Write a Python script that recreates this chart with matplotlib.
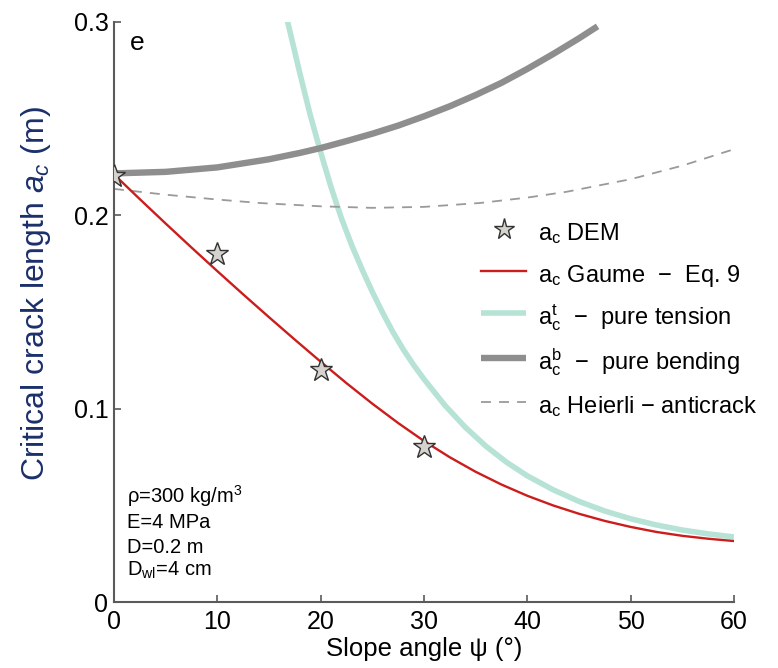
import matplotlib
matplotlib.use("Agg")
from matplotlib import pyplot as plt

plt.rcParams["font.family"] = ["Liberation Sans", "DejaVu Sans"]
plt.rcParams["mathtext.fontset"] = "custom"
plt.rcParams["mathtext.rm"] = "Liberation Sans"
plt.rcParams["mathtext.it"] = "Liberation Sans:italic"

# DEM critical crack lengths
dem_angle = [0, 10, 20, 30]
dem_ac = [0.220, 0.180, 0.120, 0.080]

# Gaume - Eq. 9
gaume_angle = [0, 2.5, 5, 7.5, 10, 12.5, 15, 17.5, 20, 22.5, 25, 27.5, 30, 32.5, 35,
               37.5, 40, 42.5, 45, 47.5, 50, 52.5, 55, 57.5, 60]
gaume_ac = [0.2210, 0.2082, 0.1956, 0.1832, 0.1710, 0.1590, 0.1472, 0.1356, 0.1242,
            0.1131, 0.1025, 0.0925, 0.0832, 0.0748, 0.0673, 0.0607, 0.0549, 0.0499,
            0.0456, 0.0419, 0.0388, 0.0362, 0.0342, 0.0327, 0.0315]

# pure tension
tens_angle = [16.8, 18, 19, 20, 21, 22, 23, 24, 25, 26, 27, 28, 29, 30, 32, 34, 36, 38,
              40, 42.5, 45, 47.5, 50, 52.5, 55, 57.5, 60]
tens_ac = [0.300, 0.273, 0.2515, 0.2325, 0.2145, 0.1985, 0.1845, 0.1720, 0.1603, 0.1495,
           0.1395, 0.1305, 0.1225, 0.1152, 0.1018, 0.0903, 0.0805, 0.0722, 0.0652,
           0.0580, 0.0520, 0.0470, 0.0430, 0.0398, 0.0372, 0.0352, 0.0336]

# pure bending
bend_angle = [0, 5, 10, 15, 18, 20, 22.5, 25, 27.5, 30, 32.5, 35, 37.5, 40, 42.5, 45, 46.8]
bend_ac = [0.2215, 0.2223, 0.2246, 0.2288, 0.2321, 0.2346, 0.2382, 0.2420, 0.2462,
           0.2510, 0.2562, 0.2620, 0.2683, 0.2755, 0.2832, 0.2913, 0.2975]

# Heierli anticrack
heierli_angle = [0, 5, 10, 14.1, 20, 25, 30, 35.4, 40, 43.8, 50, 55, 60]
heierli_ac = [0.2135, 0.2105, 0.2080, 0.2062, 0.2045, 0.2037, 0.2042, 0.2062, 0.2090,
              0.2120, 0.2185, 0.2255, 0.2340]

fig = plt.figure(figsize=(7.78, 6.68), dpi=100)
ax = fig.add_axes([0.1465, 0.0988, 0.7969, 0.869])

ax.plot(tens_angle, tens_ac, color="#b6e3d5", lw=4.0, solid_capstyle="butt",
        label=r"a$_\mathrm{c}^\mathrm{t}$  $-$  pure tension", zorder=2)
ax.plot(bend_angle, bend_ac, color="#8e8e8e", lw=4.6, solid_capstyle="butt",
        label=r"a$_\mathrm{c}^\mathrm{b}$  $-$  pure bending", zorder=2)
ax.plot(heierli_angle, heierli_ac, color="#9a9a9a", lw=1.3, ls=(0, (5.5, 4.5)),
        label=r"a$_\mathrm{c}$ Heierli $-$ anticrack", zorder=2)
ax.plot(gaume_angle, gaume_ac, color="#cc1d1d", lw=1.7,
        label=r"a$_\mathrm{c}$ Gaume  $-$  Eq. 9", zorder=3)
ax.plot(dem_angle, dem_ac, ls="none", marker="*", ms=17, mfc="#d6d3ce", mec="#333333",
        mew=1.0, label=r"a$_\mathrm{c}$ DEM", zorder=4)

handles, labels = ax.get_legend_handles_labels()
order = [4, 3, 0, 1, 2]
ax.legend([handles[i] for i in order], [labels[i] for i in order],
          loc="upper left", bbox_to_anchor=(0.558, 0.699), frameon=False,
          fontsize=17, handlelength=1.9, handleheight=1.5, labelspacing=0.56,
          handletextpad=0.5, borderpad=0.4, markerscale=0.9)

ax.set_xlim(0, 60)
ax.set_ylim(0, 0.3)
ax.set_xticks([0, 10, 20, 30, 40, 50, 60])
ax.set_yticks([0, 0.1, 0.2, 0.3])
ax.set_yticklabels(["0", "0.1", "0.2", "0.3"])
ax.tick_params(direction="in", length=5, width=1.2, color="#5a5a5a", labelsize=18)
ax.tick_params(axis="x", pad=6)
ax.tick_params(axis="y", pad=4)
for s in ["top", "right"]:
    ax.spines[s].set_visible(False)
for s in ["left", "bottom"]:
    ax.spines[s].set_color("#5a5a5a")
    ax.spines[s].set_linewidth(1.5)

ax.set_xlabel("Slope angle ψ (°)", fontsize=18.5, labelpad=2)
ax.set_ylabel(r"Critical crack length $a_c$ (m)", fontsize=23, color="#1b2f6b")
ax.yaxis.set_label_coords(-0.098, 0.532)

ax.text(0.026, 0.951, "e", transform=ax.transAxes, fontsize=19, va="baseline")

# material parameters, one line each
params = ["ρ=300 kg/m$^3$", "E=4 MPa", "D=0.2 m", "D$_\\mathrm{wl}$=4 cm"]
param_y = [0.171, 0.127, 0.084, 0.046]
for txt, yy in zip(params, param_y):
    ax.text(0.021, yy, txt, transform=ax.transAxes, fontsize=14.5, va="baseline")

fig.savefig("out.png", dpi=100)
